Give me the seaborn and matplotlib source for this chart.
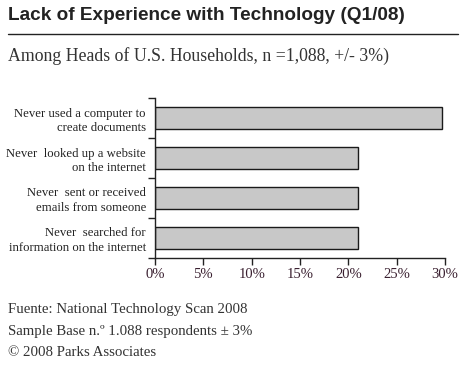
import matplotlib
matplotlib.use("Agg")
import matplotlib.pyplot as plt
import seaborn as sns
import pandas as pd
import numpy as np

categories = [
    "Never used a computer to\ncreate documents",
    "Never  looked up a website\non the internet",
    "Never  sent or received\nemails from someone",
    "Never  searched for\ninformation on the internet",
]
values = [29.7, 21.0, 21.0, 21.0]
xticks = [0, 5, 10, 15, 20, 25, 30]

sns.set_style("ticks")
plt.rcParams["font.family"] = ["Liberation Serif", "DejaVu Serif"]

df = pd.DataFrame({"label": categories, "pct": values})

fig = plt.figure(figsize=(4.72, 3.66), dpi=100)
ax = fig.add_axes([155 / 472, 1 - 258 / 366, 290 / 472, 160 / 366])

sns.barplot(data=df, x="pct", y="label", ax=ax, color="#c8c8c8",
            edgecolor="#1a1a1a", linewidth=1.0, width=0.53, saturation=1)

ax.set_xlim(0, 30)
ax.set_ylim(3.5, -0.5)
ax.set_xticks(xticks)
ax.set_xticklabels([f"{t}%" for t in xticks], fontsize=10.5, color="#3a2030")
ax.set_yticks(range(len(categories)))
ax.set_yticklabels(categories, fontsize=9.2, color="#222222", linespacing=1.25)
ax.set_yticks(np.arange(-0.5, len(categories), 1.0), minor=True)
ax.tick_params(axis="y", which="major", length=0, pad=6.5)
ax.tick_params(axis="y", which="minor", length=5, width=1, color="#222222")
ax.tick_params(axis="x", length=5, width=1, color="#222222", pad=2)
ax.set_xlabel("")
ax.set_ylabel("")
sns.despine(ax=ax)
for s in ["left", "bottom"]:
    ax.spines[s].set_linewidth(1.0)
    ax.spines[s].set_color("#222222")

fig.text(8 / 472, 1 - 16 / 366, "Lack of Experience with Technology (Q1/08)",
         fontsize=13.7, fontweight="bold", family=["Liberation Sans", "DejaVu Sans"],
         color="#222222", va="center", ha="left")
fig.add_artist(plt.Line2D([8 / 472, 458 / 472], [1 - 34 / 366, 1 - 34 / 366],
                          color="#222222", linewidth=1.0))
fig.text(8 / 472, 1 - 56 / 366, "Among Heads of U.S. Households, n =1,088, +/- 3%)",
         fontsize=12.8, color="#333333", va="center", ha="left")

footer = ["Fuente: National Technology Scan 2008",
          "Sample Base n.º 1.088 respondents ± 3%",
          "© 2008 Parks Associates"]
for i, line in enumerate(footer):
    fig.text(8 / 472, 1 - (310 + 21.5 * i) / 366, line, fontsize=10.7,
             color="#333333", va="center", ha="left")

fig.savefig("out.png", dpi=100, facecolor="white")
